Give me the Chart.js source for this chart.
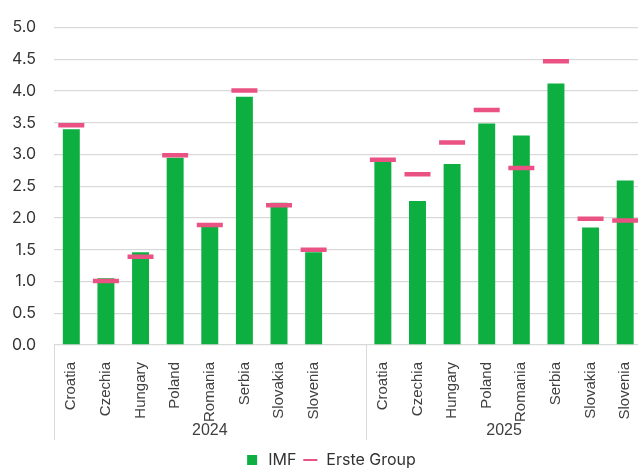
<!DOCTYPE html>
<html>
<head>
<meta charset="utf-8">
<script src="https://cdn.jsdelivr.net/npm/chart.js@4.4.1/dist/chart.umd.min.js"></script>
<style>
  html, body { margin: 0; padding: 0; background: #fff; overflow: hidden; }
  #wrap { width: 660px; height: 478px; }
</style>
</head>
<body>
<div id="wrap"><canvas id="gdpChart"></canvas></div>

<script type="text/JavaScript">

//------------------------------------------------------------------------------------------
// Data
//------------------------------------------------------------------------------------------

var countries = ["Croatia", "Czechia", "Hungary", "Poland", "Romania", "Serbia", "Slovakia", "Slovenia"];
var years = ["2024", "2025"];

// IMF forecast per country (bars)
var imf2024 = [3.4, 1.05, 1.46, 2.95, 1.86, 3.91, 2.24, 1.46];
var imf2025 = [2.9, 2.27, 2.85, 3.49, 3.3, 4.12, 1.85, 2.59];

// Erste Group forecast per country (dashes)
var erste2024 = [3.46, 1.01, 1.39, 2.99, 1.89, 4.01, 2.2, 1.5];
var erste2025 = [2.92, 2.69, 3.19, 3.7, 2.79, 4.47, 1.99, 1.96];

var yTicks = [0, 0.5, 1, 1.5, 2, 2.5, 3, 3.5, 4, 4.5, 5];

//------------------------------------------------------------------------------------------
// Build the category axis: 2024 block + one empty slot + 2025 block
//------------------------------------------------------------------------------------------

var labels = countries.concat([""]).concat(countries);
var imfData = imf2024.concat([null]).concat(imf2025);
var ersteData = erste2024.concat([null]).concat(erste2025);
var groupStart = [0, countries.length + 1];   // first slot index of each year
var groupSize = [countries.length + 1, countries.length];

var GRID = "#d9d9d9";
var TEXT = "#404040";

// draws the year labels and the separators under the category axis
var yearAxisPlugin = {
    id: "yearAxis",
    afterDraw: function(chart) {
        var ctx = chart.ctx;
        var x = chart.scales.x;
        var top = chart.chartArea.bottom;
        var bottom = top + 95;
        var half = (x.getPixelForValue(1) - x.getPixelForValue(0)) / 2;

        ctx.save();
        ctx.strokeStyle = GRID;
        ctx.lineWidth = 1;
        for (var g = 0; g <= years.length; g++) {
            var idx = g < years.length ? groupStart[g] : labels.length;
            var px = Math.round(x.getPixelForValue(idx) - half) + 0.5;
            ctx.beginPath();
            ctx.moveTo(px, top);
            ctx.lineTo(px, bottom);
            ctx.stroke();
        }
        ctx.fillStyle = TEXT;
        ctx.font = "16px 'Liberation Sans', Arial, sans-serif";
        ctx.textAlign = "center";
        ctx.textBaseline = "middle";
        for (var g = 0; g < years.length; g++) {
            var left = x.getPixelForValue(groupStart[g]) - half;
            var right = x.getPixelForValue(groupStart[g] + groupSize[g] - 1) + half;
            ctx.fillText(years[g], (left + right) / 2, top + 86);
        }
        ctx.restore();
    }
};

var ctxD = document.getElementById("gdpChart").getContext("2d");
var myChart = new Chart(ctxD, {
    type: "bar",
    data: {
        labels: labels,
        datasets: [
            {
                type: "bar",
                label: "IMF",
                data: imfData,
                backgroundColor: "#0db040",
                borderWidth: 0,
                barPercentage: 0.49,
                categoryPercentage: 1.0,
                order: 2
            },
            {
                type: "line",
                label: "Erste Group",
                data: ersteData,
                showLine: false,
                pointStyle: "line",
                pointRadius: 13,
                pointHoverRadius: 13,
                pointBorderWidth: 4.5,
                borderColor: "#ea5283",
                backgroundColor: "#ea5283",
                order: 1
            }
        ]
    },
    options: {
        responsive: true,
        maintainAspectRatio: false,
        animation: false,
        layout: { padding: { top: 13, left: 0, right: 0, bottom: 0 } },
        scales: {
            x: {
                grid: { display: false },
                border: { display: false },
                ticks: {
                    autoSkip: false,
                    minRotation: 90,
                    maxRotation: 90,
                    padding: 9,
                    color: TEXT,
                    font: { family: "'Liberation Sans', Arial, sans-serif", size: 15 }
                },
                afterFit: function(scale) { scale.height = 101; }
            },
            y: {
                min: 0,
                max: 5,
                border: { display: false },
                grid: { color: GRID, lineWidth: 1.3, drawTicks: false },
                afterBuildTicks: function(scale) {
                    scale.ticks = yTicks.map(function(v) { return { value: v }; });
                },
                ticks: {
                    padding: 18,
                    color: "#333333",
                    font: { family: "Inter, sans-serif", size: 16 },
                    callback: function(v) { return Number(v).toFixed(1); }
                },
                afterFit: function(scale) { scale.width = 54; }
            }
        },
        plugins: {
            tooltip: { enabled: false },
            legend: {
                position: "bottom",
                labels: {
                    usePointStyle: true,
                    boxHeight: 10,
                    padding: 6,
                    color: "#333333",
                    font: { family: "Inter, sans-serif", size: 16 },
                    generateLabels: function(chart) {
                        var items = Chart.defaults.plugins.legend.labels.generateLabels(chart);
                        items.forEach(function(it) {
                            if (it.datasetIndex === 0) { it.pointStyle = "rect"; it.lineWidth = 0; }
                            else { it.pointStyle = "line"; it.lineWidth = 2; }
                        });
                        items.sort(function(a, b) { return a.datasetIndex - b.datasetIndex; });
                        return items;
                    }
                }
            }
        }
    },
    plugins: [yearAxisPlugin]
});

</script>
</body>
</html>
